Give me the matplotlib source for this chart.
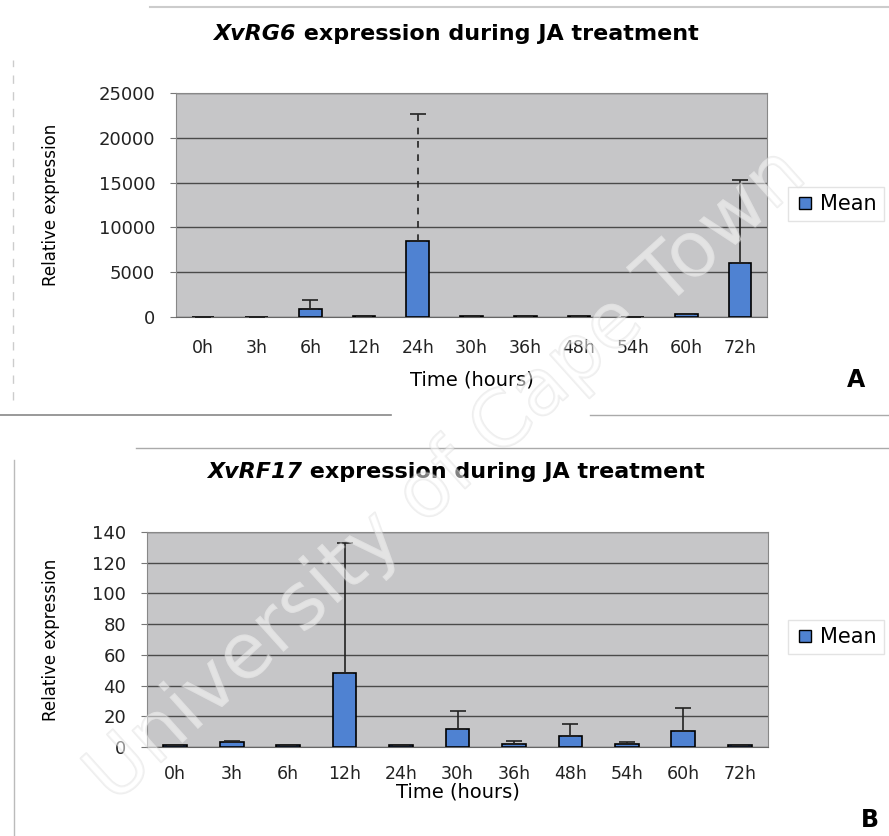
import matplotlib.pyplot as plt
import matplotlib.patheffects as pe
from matplotlib.lines import Line2D

plt.rcParams['font.family'] = ['DejaVu Sans']

# 時間點
times = ['0h', '3h', '6h', '12h', '24h', '30h', '36h', '48h', '54h', '60h', '72h']

# A: XvRG6
rg6_mean = [1, 5, 900, 100, 8450, 80, 150, 100, 50, 300, 6000]
rg6_err = [0, 0, 1000, 0, 14200, 0, 0, 0, 0, 0, 9300]
rg6_ticks = [0, 5000, 10000, 15000, 20000, 25000]

# B: XvRF17
rf17_mean = [1, 3, 1, 48, 1, 11.5, 2, 7, 2, 10.5, 1]
rf17_err = [0.2, 1, 0.3, 85, 0.3, 12, 2, 8, 1, 15, 0.3]
rf17_ticks = [0, 20, 40, 60, 80, 100, 120, 140]

BAR_COLOR = '#4f82d2'
BG_COLOR = '#c6c6c8'
W, H = 889, 836


def draw_title(fig, gene, x_center, y_base):
    # 基因名斜體,其餘正常粗體
    r = fig.canvas.get_renderer()
    t1 = fig.text(0, y_base, gene, fontsize=16, fontweight='bold', style='italic',
                  ha='left', va='baseline')
    t2 = fig.text(0, y_base, ' expression during JA treatment', fontsize=16,
                  fontweight='bold', ha='left', va='baseline')
    w1 = t1.get_window_extent(r).width
    w2 = t2.get_window_extent(r).width
    start = x_center * W - (w1 + w2) / 2
    t1.set_x(start / W)
    t2.set_x((start + w1) / W)


def draw_panel(ax, mean, err, ticks, gene, title_y, legend_y, ylab_x, xlab_y, xpad,
               dashed_idx=None):
    x = range(len(times))
    ax.set_facecolor(BG_COLOR)
    ax.bar(x, mean, width=0.42, color=BAR_COLOR, edgecolor='black', linewidth=1.2, zorder=3)
    eb = ax.errorbar(x, mean, yerr=[[0] * len(err), err], fmt='none', ecolor='#222222',
                     elinewidth=1.2, capsize=6, capthick=1.2, zorder=4)
    if dashed_idx is not None:
        styles = ['-'] * len(err)
        styles[dashed_idx] = (0, (4, 4))
        eb.lines[2][0].set_linestyle(styles)
    ax.set_ylim(ticks[0], ticks[-1])
    ax.set_xlim(-0.5, len(times) - 0.5)
    ax.set_yticks(ticks)
    ax.set_yticklabels([str(t) for t in ticks], fontsize=13, color='#222222')
    ax.set_xticks(list(x))
    ax.set_xticklabels(times, fontsize=12.5, color='#222222')
    ax.tick_params(axis='x', length=0, pad=xpad)
    ax.tick_params(axis='y', length=4, color='#777777', pad=11)
    ax.yaxis.grid(True, color='#4a4a4a', linewidth=1.0, zorder=0)
    ax.set_axisbelow(True)
    for s in ['left', 'right', 'top']:
        ax.spines[s].set_color('#888888')
    ax.spines['bottom'].set_color('#666666')
    ax.set_ylabel('Relative expression', fontsize=12)
    ax.yaxis.set_label_coords(ylab_x, 0.5)
    ax.set_xlabel('Time (hours)', fontsize=14)
    ax.xaxis.set_label_coords(0.5, xlab_y)
    fig = ax.figure
    draw_title(fig, gene, 456 / W, title_y)
    handle = Line2D([], [], marker='s', linestyle='none', markersize=9,
                    markerfacecolor=BAR_COLOR, markeredgecolor='black')
    fig.legend([handle], ['Mean'], loc='center left', bbox_to_anchor=(788 / W, legend_y),
               frameon=True, fancybox=False, edgecolor='#dddddd', fontsize=15,
               handletextpad=0.3, borderpad=0.35, handlelength=0.9, borderaxespad=0)


fig = plt.figure(figsize=(W / 100, H / 100), dpi=100)
ax1 = fig.add_axes([176 / W, 1 - 317 / H, 591 / W, 224 / H])
ax2 = fig.add_axes([147 / W, 1 - 747 / H, 621 / W, 215 / H])

draw_panel(ax1, rg6_mean, rg6_err, rg6_ticks, 'XvRG6', 1 - 40 / H, 1 - 204 / H,
           -0.197, -0.241, 16, dashed_idx=4)
draw_panel(ax2, rf17_mean, rf17_err, rf17_ticks, 'XvRF17', 1 - 478 / H, 1 - 637 / H,
           -0.14, -0.167, 13)

fig.text(856 / W, 1 - 380 / H, 'A', fontsize=17, fontweight='bold', ha='center', va='center')
fig.text(870 / W, 1 - 820 / H, 'B', fontsize=17, fontweight='bold', ha='center', va='center')

# 掃描留下的分隔線
fig.add_artist(Line2D([150 / W, 1], [1 - 7 / H] * 2, color='#cccccc', linewidth=1.5))
fig.add_artist(Line2D([0, 391 / W], [1 - 415 / H] * 2, color='#888888', linewidth=1.2))
fig.add_artist(Line2D([590 / W, 1], [1 - 415 / H] * 2, color='#aaaaaa', linewidth=1.0))
fig.add_artist(Line2D([136 / W, 1], [1 - 448 / H] * 2, color='#aaaaaa', linewidth=1.0))
fig.add_artist(Line2D([14 / W] * 2, [0, 1 - 460 / H], color='#bbbbbb', linewidth=1.0))
fig.add_artist(Line2D([13 / W] * 2, [1 - 400 / H, 1 - 60 / H], color='#cccccc',
                      linewidth=1.0, linestyle=(0, (6, 6))))

# 水印
fig.text(446 / W, 1 - 476 / H, 'University of Cape Town', fontsize=56, rotation=42,
         ha='center', va='center', color='white', alpha=0.3,
         path_effects=[pe.withStroke(linewidth=1.5, foreground='#c8c8c8')])

fig.savefig('out.png', dpi=100)
plt.close(fig)
